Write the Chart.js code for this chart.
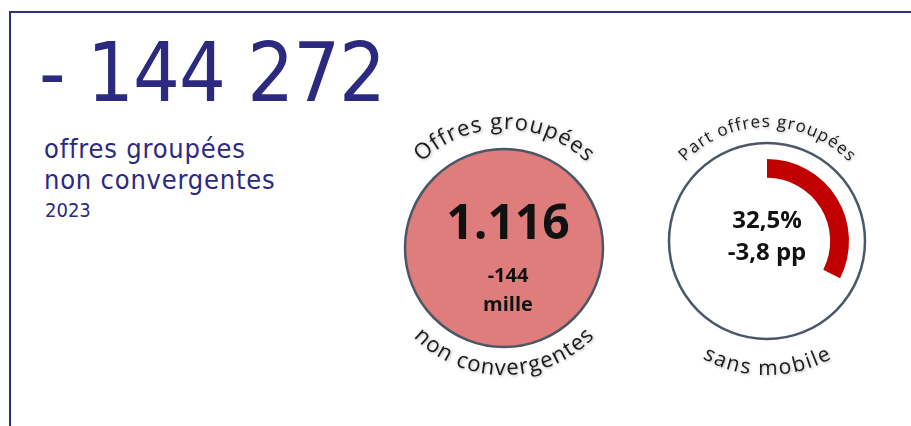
<!DOCTYPE html>
<html>
<head>
<meta charset="utf-8">
<script src="https://cdn.jsdelivr.net/npm/chart.js@4.4.1/dist/chart.umd.min.js"></script>
<style>
	body { margin: 0; width: 911px; height: 426px; overflow: hidden; background: #fff; position: relative; }
	#frame { position: absolute; left: 9px; top: 11px; right: -10px; bottom: -10px; border-top: 2px solid #2e2e86; border-left: 2px solid #2e2e86; }
	.navy { position: absolute; color: #2b2a80; font-family: "DejaVu Sans Condensed"; white-space: nowrap; }
	#headline { left: 39px; top: 32px; font-size: 82px; line-height: 82px; letter-spacing: -1px; }
	#subtitle { left: 44px; top: 133px; font-size: 27px; line-height: 31px; letter-spacing: 0.8px; }
	#year { left: 45px; top: 200px; font-size: 20px; line-height: 20px; }
	canvas { position: absolute; }
	#offers { left: 354px; top: 98px; }
	#share { left: 617px; top: 91px; }
</style>
</head>
<body>
<div id="frame"></div>
<div id="headline" class="navy"></div>
<div id="subtitle" class="navy"></div>
<div id="year" class="navy"></div>
<canvas id="offers" width="300" height="300"></canvas>
<canvas id="share" width="300" height="300"></canvas>
<script>
/* globals Chart */

// headline block
const headline = '- 144 272';
const subtitleLines = ['offres groupées', 'non convergentes'];
const year = '2023';

// left circle: number of bundled offers without convergence
const offersLabels = ['Offres groupées non convergentes'];
const offersValues = [1116];
const offersTop = 'Offres groupées';
const offersBottom = 'non convergentes';
const offersMain = '1.116';
const offersNotes = ['-144', 'mille'];

// right circle: share of bundled offers without mobile
const shareLabels = ['Sans mobile', 'Autres'];
const shareValues = [32.5, 67.5];
const shareTop = 'Part offres groupées';
const shareBottom = 'sans mobile';
const shareNotes = ['32,5%', '-3,8 pp'];

document.getElementById('headline').textContent = headline;
document.getElementById('subtitle').innerHTML = subtitleLines.join('<br>');
document.getElementById('year').textContent = year;

// writes text along a circle, on top (clockwise) or at the bottom (upright)
function arcText(ctx, text, cx, cy, r, top, spacing) {
	let chars = [...text];
	let widths = chars.map(c => ctx.measureText(c).width);
	let total = widths.reduce((a, b) => a + b, 0) + spacing * (chars.length - 1);
	let dir = top ? 1 : -1;
	let ang = top ? -Math.PI / 2 - total / r / 2 : Math.PI / 2 + total / r / 2;

	ctx.textAlign = 'center';
	ctx.textBaseline = 'alphabetic';
	for (let i = 0; i < chars.length; i++) {
		let half = widths[i] / 2 / r;
		ang += dir * half;
		ctx.save();
		ctx.translate(cx + r * Math.cos(ang), cy + r * Math.sin(ang));
		ctx.rotate(top ? ang + Math.PI / 2 : ang - Math.PI / 2);
		ctx.fillText(chars[i], 0, 0);
		ctx.restore();
		ang += dir * (half + spacing / r);
	}
}

function shadowOn(ctx) {
	ctx.shadowColor = 'rgba(0,0,0,0.3)';
	ctx.shadowBlur = 3;
	ctx.shadowOffsetX = 1;
	ctx.shadowOffsetY = 1;
}

const baseOptions = {
	responsive: false,
	animation: false,
	events: [],
	layout: { padding: 0 },
	plugins: { legend: { display: false }, tooltip: { enabled: false } }
};

// ----- left circle
const offersDeco = {
	id: 'offersDeco',
	afterDatasetsDraw(chart) {
		let ctx = chart.ctx;
		let el = chart.getDatasetMeta(0).data[0];

		ctx.save();
		ctx.beginPath();
		ctx.arc(el.x, el.y, el.outerRadius, 0, Math.PI * 2);
		ctx.lineWidth = 2.5;
		ctx.strokeStyle = '#4b5766';
		ctx.stroke();

		ctx.fillStyle = '#111';
		ctx.textAlign = 'center';
		ctx.textBaseline = 'alphabetic';
		ctx.font = 'bold 48px "Open Sans"';
		ctx.fillText(offersMain, el.x + 4, el.y - 9);
		ctx.font = 'bold 20px "Open Sans"';
		ctx.fillText(offersNotes[0], el.x + 4, el.y + 34);
		ctx.fillText(offersNotes[1], el.x + 4, el.y + 63);

		shadowOn(ctx);
		ctx.fillStyle = '#1a1a1a';
		ctx.font = '22px "Open Sans"';
		arcText(ctx, offersTop, el.x, el.y, 119, true, 1.2);
		arcText(ctx, offersBottom, el.x, el.y, 127, false, 1.2);
		ctx.restore();
	}
};

new Chart(document.getElementById('offers'), {
	type: 'pie',
	data: {
		labels: offersLabels,
		datasets: [{ data: offersValues, backgroundColor: '#df7c7c', borderWidth: 0 }]
	},
	options: Object.assign({ radius: 99 }, baseOptions),
	plugins: [offersDeco]
});

// ----- right circle
const shareDeco = {
	id: 'shareDeco',
	beforeDatasetsDraw(chart) {
		let ctx = chart.ctx;
		let el = chart.getDatasetMeta(0).data[0];

		ctx.save();
		ctx.beginPath();
		ctx.arc(el.x, el.y, 98, 0, Math.PI * 2);
		ctx.fillStyle = '#fff';
		ctx.fill();
		ctx.lineWidth = 2.5;
		ctx.strokeStyle = '#4b5766';
		ctx.stroke();
		ctx.restore();
	},
	afterDatasetsDraw(chart) {
		let ctx = chart.ctx;
		let el = chart.getDatasetMeta(0).data[0];

		ctx.save();
		ctx.fillStyle = '#111';
		ctx.textAlign = 'center';
		ctx.textBaseline = 'alphabetic';
		ctx.font = 'bold 24px "Open Sans"';
		ctx.fillText(shareNotes[0], el.x, el.y - 13);
		ctx.fillText(shareNotes[1], el.x, el.y + 19);

		shadowOn(ctx);
		ctx.fillStyle = '#1a1a1a';
		ctx.font = '17px "Open Sans"';
		arcText(ctx, shareTop, el.x, el.y, 114, true, 1.1);
		ctx.font = '21px "Open Sans"';
		arcText(ctx, shareBottom, el.x, el.y, 134, false, 1.8);
		ctx.restore();
	}
};

new Chart(document.getElementById('share'), {
	type: 'doughnut',
	data: {
		labels: shareLabels,
		datasets: [{ data: shareValues, backgroundColor: ['#c00000', 'rgba(0,0,0,0)'], borderWidth: 0 }]
	},
	options: Object.assign({ radius: 82, cutout: '77%' }, baseOptions),
	plugins: [shareDeco]
});
</script>
</body>
</html>
